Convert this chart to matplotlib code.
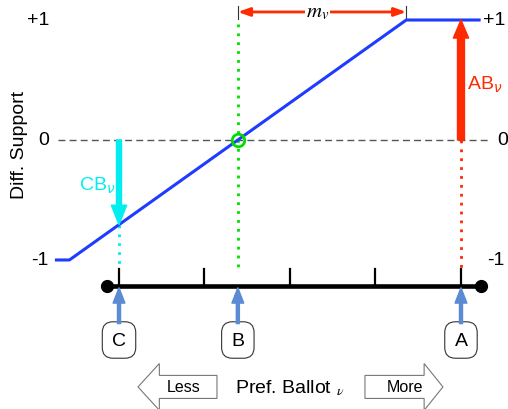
import matplotlib.pyplot as plt
import numpy as np
from matplotlib.patches import FancyArrow

plt.rcParams['font.family'] = ['Liberation Sans', 'DejaVu Sans']

# ## Data (x in ballot-tick units, y in differential support)
tick_pos = [0, 1, 2, 3, 4]
cand_names = ['C', 'B', 'A']
cand_pos = [0.0, 1.39, 4.0]
ballot_b = 1.39      # break-even ballot (B)
m_v = 1.97           # half width of the ramp
line_ends = [-0.75, 4.23]
axis_ends = [-0.14, 4.23]
support_ticks = [1, 0, -1]
left_labels = ['+1', '0', '-1']
right_labels = ['+1', '0', '-1']

curve_x = [line_ends[0], ballot_b - m_v, ballot_b + m_v, line_ends[1]]
curve_y = [-1, -1, 1, 1]

# ## Styles
BLUE = '#1e3cff'
RED = '#ff2a00'
CYAN = '#00eef0'
GREEN = '#00dd00'
STEEL = '#5b8bd2'
FS = 14
axis_y = -1.217
tick_top = -1.075
box_y = -1.667
bottom_y = -2.058

fig = plt.figure(figsize=(5.08, 4.10), dpi=100)
ax = fig.add_axes([0, 0, 1, 1])
ax.set_xlim(-1.392, 4.550)
ax.set_ylim(-2.242, 1.175)
ax.axis('off')

# zero reference line
ax.plot([-0.713, 4.34], [0, 0], color='#555555', lw=1, dashes=(5, 3))

# support curve
ax.plot(curve_x, curve_y, color=BLUE, lw=2.2, solid_capstyle='butt', zorder=3)

# ballot axis with ticks and end dots
ax.plot(axis_ends, [axis_y, axis_y], color='black', lw=3.3, zorder=4)
ax.plot(axis_ends, [axis_y, axis_y], 'o', color='black', ms=8.5, zorder=5)
for t in tick_pos:
    ax.plot([t, t], [axis_y, tick_top], color='black', lw=1.6, zorder=4)

# C, B, A ballots
sup_c = np.interp(cand_pos[0], curve_x, curve_y)
sup_a = np.interp(cand_pos[2], curve_x, curve_y)

ax.plot([cand_pos[0], cand_pos[0]], [sup_c, tick_top], color=CYAN, lw=2, ls=(0, (1, 2.2)))
ax.plot([ballot_b, ballot_b], [0.97, tick_top], color=GREEN, lw=2, ls=(0, (1, 2.2)))
ax.plot([cand_pos[2], cand_pos[2]], [0, tick_top], color=RED, lw=2, ls=(0, (1, 2.2)))

ax.plot([ballot_b], [0], 'o', mfc='none', mec=GREEN, ms=9, mew=2, zorder=6)

# CB and AB arrows
ax.annotate('', xy=(cand_pos[0], sup_c), xytext=(cand_pos[0], 0),
            arrowprops=dict(width=3.6, headwidth=11, headlength=14,
                            color=CYAN, shrink=0), zorder=5)
ax.annotate('', xy=(cand_pos[2], sup_a), xytext=(cand_pos[2], 0),
            arrowprops=dict(width=5, headwidth=11, headlength=13,
                            color=RED, shrink=0), zorder=5)
ax.text(-0.26, -0.37, r'CB$_\nu$', color=CYAN, fontsize=FS,
        ha='center', va='center')
ax.text(4.28, 0.47, r'AB$_\nu$', color=RED, fontsize=FS,
        ha='center', va='center')

# m_v span
y_m = 1.067
ax.annotate('', xy=(ballot_b, y_m), xytext=(ballot_b + m_v, y_m),
            arrowprops=dict(arrowstyle='<|-|>,head_length=0.7,head_width=0.25',
                            lw=2, color=RED, shrinkA=0, shrinkB=0))
for xe in [ballot_b, ballot_b + m_v]:
    ax.plot([xe, xe], [1.008, 1.117], color='#333333', lw=0.8)
ax.text(ballot_b + m_v / 2 - 0.05, y_m, r'$m_v$', fontsize=15, math_fontfamily='stix',
        ha='center', va='center',
        bbox=dict(boxstyle='square,pad=0.05', fc='white', ec='none'))

# support labels
for yv, lab in zip(support_ticks, left_labels):
    ax.text(-0.82, yv, lab, fontsize=FS, ha='right', va='center')
for yv, lab, xv in zip(support_ticks, right_labels, [4.257, 4.42, 4.30]):
    ax.text(xv, yv, lab, fontsize=FS, ha='left', va='center')
ax.text(-1.16, -0.03, 'Diff. Support', fontsize=FS, rotation=90,
        ha='center', va='center')

# candidate boxes with arrows
for name, xp in zip(cand_names, cand_pos):
    ax.annotate('', xy=(xp, axis_y - 0.015), xytext=(xp, -1.53),
                arrowprops=dict(width=2.2, headwidth=8.5, headlength=11,
                                color=STEEL, shrink=0), zorder=6)
    ax.text(xp, box_y, name, fontsize=FS, ha='center', va='center',
            bbox=dict(boxstyle='round,pad=0.5,rounding_size=0.55',
                      fc='white', ec='#333333', lw=0.8))

# bottom labels and direction arrows
ax.text(2.0, bottom_y, r'Pref. Ballot $_\nu$', fontsize=FS, ha='center',
        va='center', math_fontfamily='stix')
ax.add_patch(FancyArrow(1.146, bottom_y, -0.924, 0, width=0.192,
                        head_width=0.39, head_length=0.25,
                        length_includes_head=True, fc='white',
                        ec='#777777', lw=0.8))
ax.add_patch(FancyArrow(2.877, bottom_y, 0.912, 0, width=0.192,
                        head_width=0.39, head_length=0.22,
                        length_includes_head=True, fc='white',
                        ec='#777777', lw=0.8))
ax.text(0.75, bottom_y, 'Less', fontsize=11.5, ha='center', va='center')
ax.text(3.345, bottom_y, 'More', fontsize=11.5, ha='center', va='center')

fig.savefig('out.png', dpi=100)
